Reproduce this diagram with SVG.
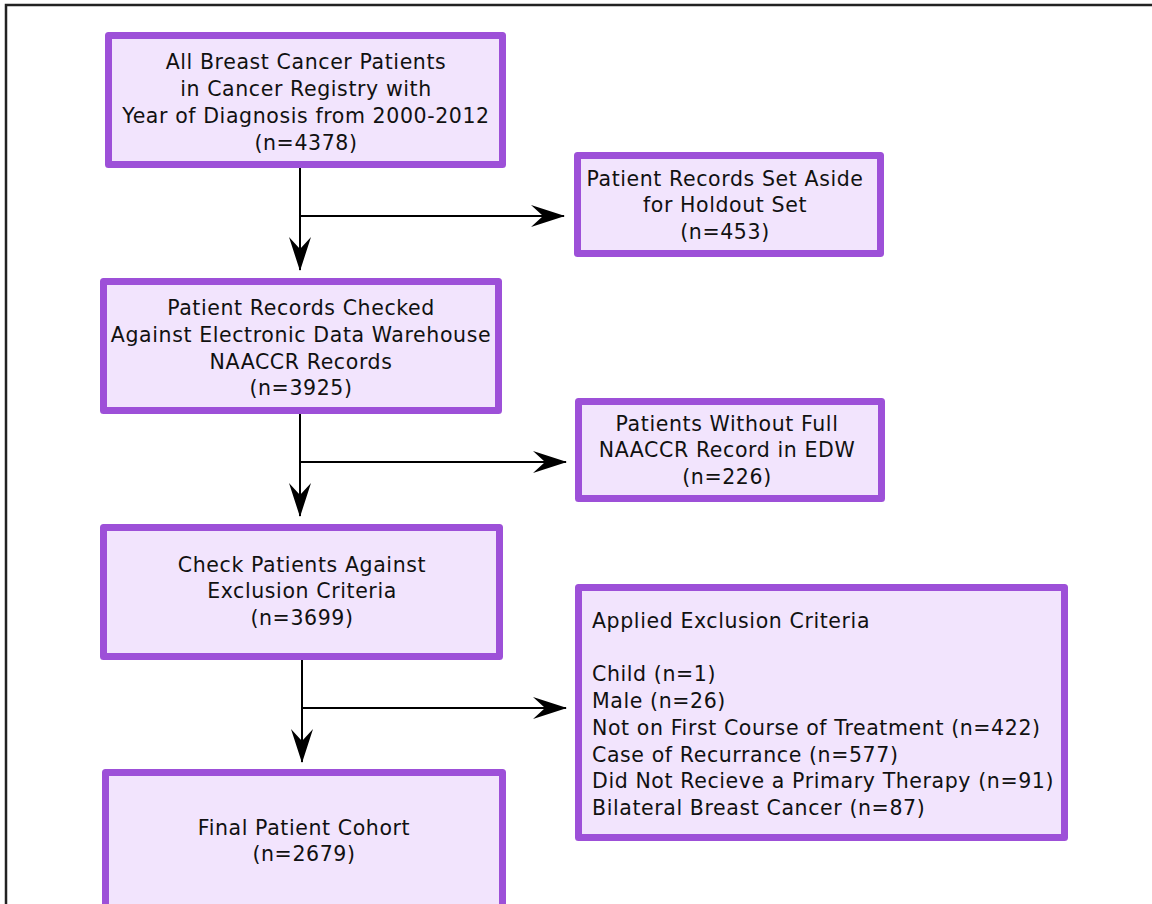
<svg xmlns="http://www.w3.org/2000/svg" width="1152" height="904" viewBox="0 0 1152 904">
  <style>
    .box { fill: #f2e4fd; stroke: #9d50d8; stroke-width: 7; stroke-linejoin: round; }
    .t { font-family: Verdana, "DejaVu Sans", sans-serif; font-size: 20.5px; letter-spacing: 0.6px; fill: #111; }
    .c { text-anchor: middle; }
    .edge { fill: none; stroke: #000; stroke-width: 2; }
  </style>
  <defs>
    <marker id="arrow" viewBox="0 0 34 22" refX="33" refY="11" markerWidth="34" markerHeight="22" markerUnits="userSpaceOnUse" orient="auto">
      <path d="M0,0 L34,11 L0,22 L12,11 Z" fill="#000"/>
    </marker>
  </defs>
  <rect width="1152" height="904" fill="#fff"/>
  <!-- frame -->
  <path d="M6,904 V5 H1152" fill="none" stroke="#222" stroke-width="2.5"/>

  <g id="connectors">
    <path class="edge" d="M300,167 V270" marker-end="url(#arrow)"/>
    <path class="edge" d="M300,216 H564" marker-end="url(#arrow)"/>
    <path class="edge" d="M300,413 V516" marker-end="url(#arrow)"/>
    <path class="edge" d="M300,462 H566" marker-end="url(#arrow)"/>
    <path class="edge" d="M302,660 V762" marker-end="url(#arrow)"/>
    <path class="edge" d="M302,708 H566" marker-end="url(#arrow)"/>
  </g>

  <g id="all-patients">
    <rect class="box" x="108.5" y="35.5" width="394" height="129"/>
    <text class="t c" x="306" y="69">All Breast Cancer Patients</text>
    <text class="t c" x="306" y="96">in Cancer Registry with</text>
    <text class="t c" x="306" y="123">Year of Diagnosis from 2000-2012</text>
    <text class="t c" x="306" y="150">(n=4378)</text>
  </g>

  <g id="holdout">
    <rect class="box" x="577.5" y="155.5" width="303" height="98"/>
    <text class="t c" x="725" y="186">Patient Records Set Aside</text>
    <text class="t c" x="725" y="212">for Holdout Set</text>
    <text class="t c" x="725" y="239">(n=453)</text>
  </g>

  <g id="edw-check">
    <rect class="box" x="103.5" y="281.5" width="395" height="129"/>
    <text class="t c" x="301" y="315">Patient Records Checked</text>
    <text class="t c" x="301" y="342">Against Electronic Data Warehouse</text>
    <text class="t c" x="301" y="369">NAACCR Records</text>
    <text class="t c" x="301" y="395">(n=3925)</text>
  </g>

  <g id="no-naaccr">
    <rect class="box" x="578.5" y="401.5" width="303" height="97"/>
    <text class="t c" x="727" y="431">Patients Without Full</text>
    <text class="t c" x="727" y="457">NAACCR Record in EDW</text>
    <text class="t c" x="727" y="484">(n=226)</text>
  </g>

  <g id="exclusion-check">
    <rect class="box" x="103.5" y="527.5" width="396" height="129"/>
    <text class="t c" x="302" y="572">Check Patients Against</text>
    <text class="t c" x="302" y="598">Exclusion Criteria</text>
    <text class="t c" x="302" y="625">(n=3699)</text>
  </g>

  <g id="exclusions">
    <rect class="box" x="578.5" y="587.5" width="486" height="250"/>
    <text class="t" x="592" y="628">Applied Exclusion Criteria</text>
    <text class="t" x="592" y="681">Child (n=1)</text>
    <text class="t" x="592" y="708">Male (n=26)</text>
    <text class="t" x="592" y="735">Not on First Course of Treatment (n=422)</text>
    <text class="t" x="592" y="762">Case of Recurrance (n=577)</text>
    <text class="t" x="592" y="788">Did Not Recieve a Primary Therapy (n=91)</text>
    <text class="t" x="592" y="815">Bilateral Breast Cancer (n=87)</text>
  </g>

  <g id="final-cohort">
    <rect class="box" x="105.5" y="772.5" width="397" height="145"/>
    <text class="t c" x="304" y="835">Final Patient Cohort</text>
    <text class="t c" x="304" y="861">(n=2679)</text>
  </g>
</svg>
